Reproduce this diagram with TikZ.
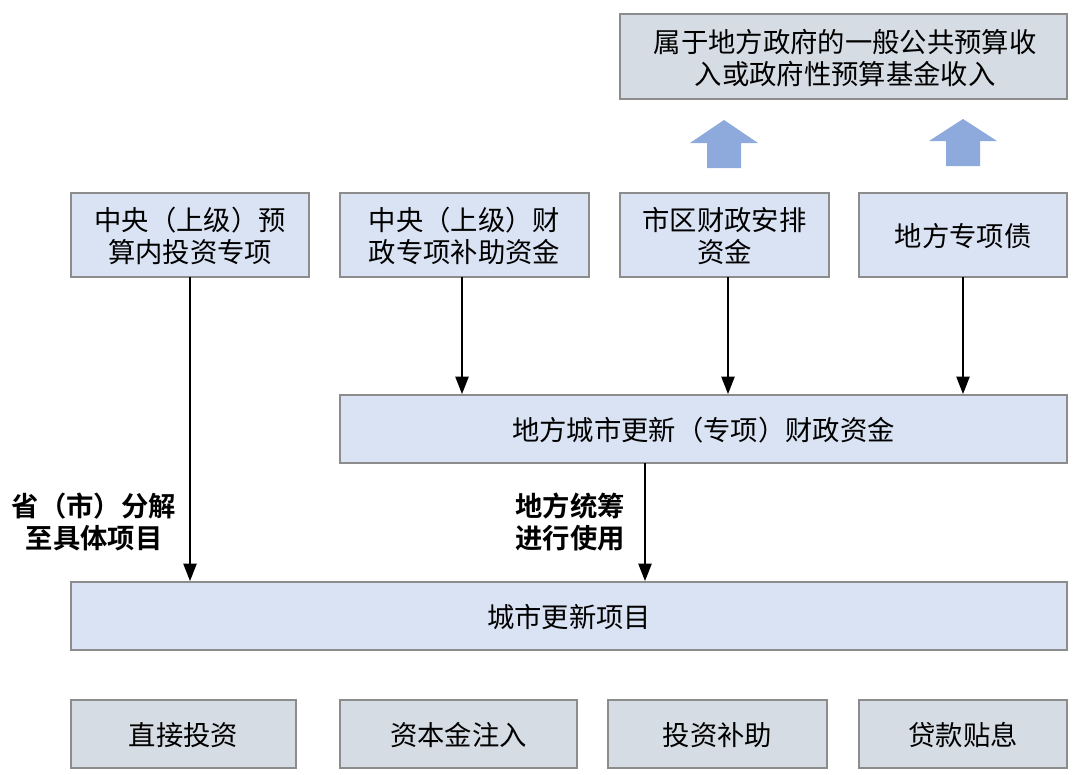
\documentclass[tikz,border=0pt]{standalone}
\usepackage{fontspec}
\setmainfont{Noto Sans CJK SC}
\newfontfamily\cjkbold{Noto Sans CJK SC Bold}
\usetikzlibrary{arrows.meta}
\definecolor{bluefill}{HTML}{DAE3F3}
\definecolor{grayfill}{HTML}{D6DCE4}
\definecolor{edgegray}{HTML}{8C8C8C}
\definecolor{arrowblue}{HTML}{8EA9DB}
\begin{document}
\begin{tikzpicture}[x=0.75pt,y=-0.75pt,
  box/.style={draw=edgegray,line width=1.5pt},
  bluebox/.style={box,fill=bluefill},
  graybox/.style={box,fill=grayfill},
  txt/.style={font=\fontsize{20.5}{23.5}\selectfont,align=center,inner sep=0pt},
  conn/.style={line width=0.9pt,-{Triangle[width=10pt,length=13pt]}},
  lbl/.style={font=\cjkbold\fontsize{20.5}{24}\selectfont,align=center,inner sep=0pt}]
\useasboundingbox (0,0) rectangle (1080,774);
% top box
\path[graybox] (620,14) rectangle (1067,99);
\node[txt] (top) at (845,58) {属于地方政府的一般公共预算收\\入或政府性预算基金收入};
% block arrows
\fill[arrowblue] (707,168) -- (707,143) -- (690,143) -- (724,120) -- (758,143) -- (741,143) -- (741,168) -- cycle;
\fill[arrowblue] (946,166) -- (946,141) -- (929,141) -- (963,119) -- (997,141) -- (980,141) -- (980,166) -- cycle;
% row boxes
\path[bluebox] (71,193) rectangle (309,277);
\node[txt] (b1) at (190,236) {中央（上级）预\\算内投资专项};
\path[bluebox] (340,193) rectangle (589,277);
\node[txt] (b2) at (464.5,236) {中央（上级）财\\政专项补助资金};
\path[bluebox] (620,193) rectangle (829,277);
\node[txt] (b3) at (724.5,236) {市区财政安排\\资金};
\path[bluebox] (859,193) rectangle (1067,277);
\node[txt] (b4) at (963,236) {地方专项债};
% middle box
\path[bluebox] (340,395) rectangle (1067,463);
\node[txt] (mid) at (703.5,430) {地方城市更新（专项）财政资金};
% project box
\path[bluebox] (71,582) rectangle (1067,650);
\node[txt] (proj) at (569,617) {城市更新项目};
% bottom boxes
\path[graybox] (71,700) rectangle (296,768);
\node[txt] (m1) at (183.5,735) {直接投资};
\path[graybox] (340,700) rectangle (577,768);
\node[txt] (m2) at (458.5,735) {资本金注入};
\path[graybox] (608,700) rectangle (827,768);
\node[txt] (m3) at (717.5,735) {投资补助};
\path[graybox] (859,700) rectangle (1067,768);
\node[txt] (m4) at (963,735) {贷款贴息};
% anchors
\coordinate (s1) at (190,277); \coordinate (e1) at (190,581);
\coordinate (s2) at (462,277); \coordinate (e2) at (462,394);
\coordinate (s3) at (728,277); \coordinate (e3) at (728,394);
\coordinate (s4) at (963,277); \coordinate (e4) at (963,394);
\coordinate (s5) at (645,463); \coordinate (e5) at (645,581);
\draw[conn] (s1) -- (e1);
\draw[conn] (s2) -- (e2);
\draw[conn] (s3) -- (e3);
\draw[conn] (s4) -- (e4);
\draw[conn] (s5) -- (e5);
% labels
\node[lbl] (l1) at (94,522) {省（市）分解\\至具体项目};
\node[lbl] (l2) at (570,522) {地方统筹\\进行使用};
\end{tikzpicture}
\end{document}
